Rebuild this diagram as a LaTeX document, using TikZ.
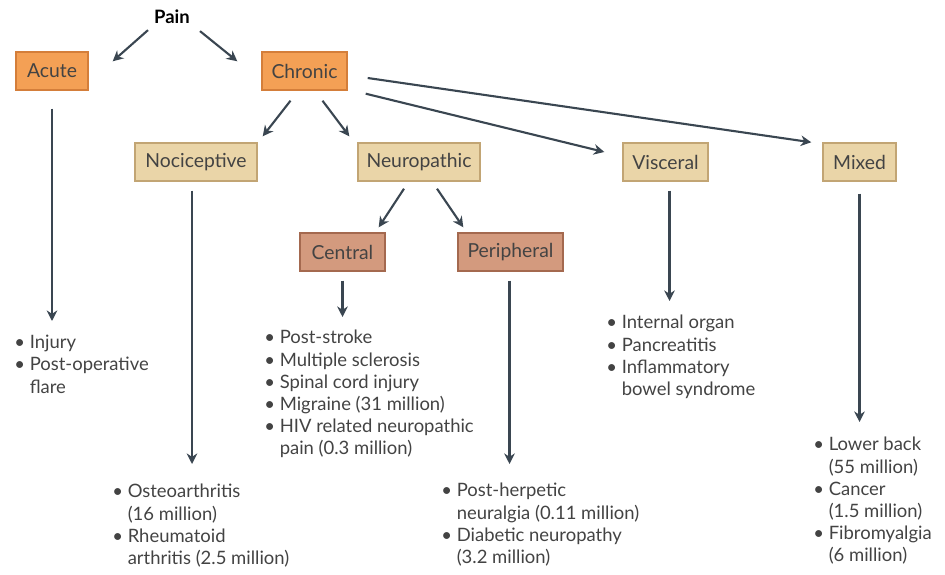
\documentclass[tikz,border=0pt]{standalone}
\usepackage{fontspec}
\setmainfont{Lato}
\usetikzlibrary{positioning, arrows.meta, calc}

\definecolor{arrowgray}{HTML}{3A4651}
\definecolor{textgray}{HTML}{434343}
\definecolor{orangefill}{HTML}{F4A055}
\definecolor{orangeline}{HTML}{D47E3A}
\definecolor{tanfill}{HTML}{EAD5A8}
\definecolor{tanline}{HTML}{C2A574}
\definecolor{brownfill}{HTML}{D39A7E}
\definecolor{brownline}{HTML}{A4694F}

\newcommand{\itm}{\textbullet\ } % bullet in front of an item
\newcommand{\cnt}{\phantom{\textbullet\ }} % hanging indent for a second line

\tikzset{
box/.style={draw, line width=0.8pt, minimum height=0.76cm, inner sep=2pt, text=textgray, font=\fontsize{11}{12}\selectfont}, % all the labelled boxes
topbox/.style={box, fill=orangefill, draw=orangeline}, % acute and chronic
midbox/.style={box, fill=tanfill, draw=tanline}, % the four kinds of chronic pain
lowbox/.style={box, fill=brownfill, draw=brownline}, % central and peripheral
arr/.style={-{Stealth[length=6pt,width=6pt]}, line width=1.2pt, draw=arrowgray}, % arrows
list/.style={anchor=north west, align=left, inner sep=0pt, text=textgray, font=\fontsize{10.5}{12.6}\selectfont}, % bullet lists
}

\begin{document}
\begin{tikzpicture}[x=0.02cm, y=-0.02cm]
\useasboundingbox (0,0) rectangle (945,574);

% boxes
\node[text=black, font=\bfseries\fontsize{10.5}{12}\selectfont] (pain) at (172,17) {Pain};
\node[topbox, minimum width=1.44cm] (acute) at (52,71) {Acute};
\node[topbox, minimum width=1.70cm] (chronic) at (304.5,71) {Chronic};
\node[midbox, minimum width=2.44cm] (noci) at (196,162) {Nociceptive};
\node[midbox, minimum width=2.44cm] (neuro) at (419,162) {Neuropathic};
\node[midbox, minimum width=1.70cm] (visc) at (665.5,162) {Visceral};
\node[midbox, minimum width=1.46cm] (mixed) at (859.5,162) {Mixed};
\node[lowbox, minimum width=1.70cm] (central) at (342.5,252) {Central};
\node[lowbox, minimum width=2.10cm] (periph) at (510.5,252) {Peripheral};

% lists
\node[list] (acutelist) at (14,335) {\itm Injury\\ \itm Post-operative\\ \cnt flare};
\node[list] (centrallist) at (264,330) {\itm Post-stroke\\ \itm Multiple sclerosis\\ \itm Spinal cord injury\\ \itm Migraine (31 million)\\ \itm HIV related neuropathic\\ \cnt pain (0.3 million)};
\node[list] (nocilist) at (112,484) {\itm Osteoarthritis\\ \cnt (16 million)\\ \itm Rheumatoid\\ \cnt arthritis (2.5 million)};
\node[list] (periphlist) at (441,483) {\itm Post-herpetic\\ \cnt neuralgia (0.11 million)\\ \itm Diabetic neuropathy\\ \cnt (3.2 million)};
\node[list] (visclist) at (606,315) {\itm Internal organ\\ \itm Pancreatitis\\ \itm Inflammatory\\ \cnt bowel syndrome};
\node[list] (mixedlist) at (813,437) {\itm Lower back\\ \cnt (55 million)\\ \itm Cancer\\ \cnt (1.5 million)\\ \itm Fibromyalgia\\ \cnt (6 million)};

% arrows between boxes
\draw[arr] (pain.south west) -- ($(acute.north east)+(24,10)$);
\draw[arr] ($(pain.south east)+(4,1)$) -- ($(chronic.north west)+(-24,10)$);
\draw[arr] ($(chronic.south)+(-14,10)$) -- ($(noci.north east)+(5,-6)$);
\draw[arr] ($(chronic.south)+(18,10)$) -- ($(neuro.north west)+(-8,-6)$);
\draw[arr] ($(chronic.south east)+(18,3)$) -- ($(visc.west)+(-18,-10)$);
\draw[arr] ($(chronic.east)+(20,7)$) -- ($(mixed.north west)+(-11,0)$);
\draw[arr] ($(neuro.south)+(-15,7)$) -- ($(central.north east)+(-7,-5)$);
\draw[arr] ($(neuro.south)+(18,7)$) -- ($(periph.north west)+(6,-5)$);

% arrows down to the lists
\draw[arr] ($(acute.south)+(0,18)$) -- ($(acute.south |- acutelist.north)+(0,-14)$);
\draw[arr] ($(noci.south)+(-4,9)$) -- ($(noci.south |- nocilist.north)+(-4,-20)$);
\draw[arr] ($(central.south)+(0,9)$) -- ($(central.south |- centrallist.north)+(0,-13)$);
\draw[arr] ($(periph.south)+(-1,9)$) -- ($(periph.south |- periphlist.north)+(-1,-19)$);
\draw[arr] ($(visc.south)+(4,9)$) -- ($(visc.south |- visclist.north)+(4,-14)$);
\draw[arr] ($(mixed.south)+(0,12)$) -- ($(mixed.south |- mixedlist.north)+(0,-15)$);
\end{tikzpicture}
\end{document}
